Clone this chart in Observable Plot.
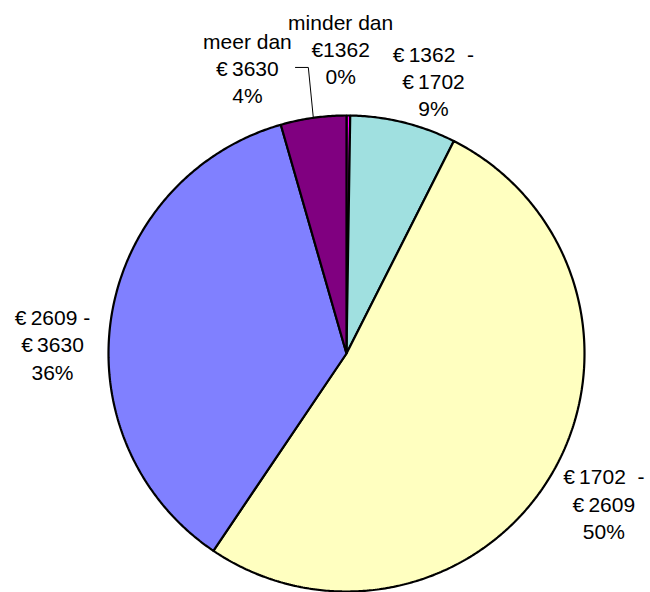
<!DOCTYPE html>
<html><head><meta charset="utf-8">
<script src="https://cdn.jsdelivr.net/npm/d3@7"></script>
<script src="https://cdn.jsdelivr.net/npm/@observablehq/plot@0.6"></script>
<style>body{margin:0;background:#fff}#chart{width:650px;height:592px}</style>
</head><body><div id="chart"></div>
<script>
// ---- data ----
const categories = ["minder dan €1362", "€ 1362 - € 1702", "€ 1702 - € 2609", "€ 2609 - € 3630", "meer dan € 3630"];
const categoryLines = [
  ["minder dan", "€1362"],
  ["€\u20091362\u00a0\u00a0-", "€\u20091702"],
  ["€\u20091702\u00a0\u00a0-", "€\u20092609"],
  ["€\u20092609 -", "€\u20093630"],
  ["meer dan", "€\u20093630"]
];
const shares = [0.25, 7.2, 52.0, 36.1, 4.45];      // slice sizes as drawn (%)
const percentLabels = ["0%", "9%", "50%", "36%", "4%"];

// ---- style / layout ----
const colors = ["#ff00ff", "#a0e0e0", "#ffffc0", "#8080ff", "#800080"];
const cx = 346, cy = 353, r = 238;
const labelRadius = [1.282, 1.204, 1.25, 1.236, 1.272];
const labelAngleNudge = [-1.55, 3.8, -0.3, -7.05, -11.1]; // degrees from slice mid-angle
const deg = Math.PI / 180;

const total = d3.sum(shares);
let acc = 0;
const slices = shares.map((v, i) => {
  const a0 = acc / total * 2 * Math.PI; acc += v;
  const a1 = acc / total * 2 * Math.PI;
  return {i, cat: categories[i], a0, a1, mid: (a0 + a1) / 2};
});

const ring = [];
slices.forEach(s => {
  ring.push({cat: s.cat, x: 0, y: 0});
  const n = Math.max(2, Math.ceil((s.a1 - s.a0) / (0.5 * deg)));
  for (let j = 0; j <= n; j++) {
    const a = s.a0 + (s.a1 - s.a0) * j / n;
    ring.push({cat: s.cat, x: Math.sin(a), y: Math.cos(a)});
  }
});

const labels = slices.map(s => {
  const a = s.mid + labelAngleNudge[s.i] * deg;
  const rr = labelRadius[s.i];
  return {
    cat: s.cat,
    x: rr * Math.sin(a), y: rr * Math.cos(a),
    text: [...categoryLines[s.i], percentLabels[s.i]].join("\n")
  };
});

// leader line for the last slice
const last = slices[4], lastLab = labels[4];
const ax = Math.sin(last.mid), ay = Math.cos(last.mid);
const leader = [
  {x: ax, y: ay},
  {x: ax - 0.021, y: lastLab.y},
  {x: ax - 0.075, y: lastLab.y}
];

const chart = Plot.plot({
  width: 650, height: 592,
  margin: 0,
  x: {domain: [-1, 1], range: [cx - r, cx + r], axis: null},
  y: {domain: [-1, 1], range: [cy + r, cy - r], axis: null},
  color: {domain: categories, range: colors},
  style: {background: "white", fontFamily: "Arial, 'Liberation Sans', sans-serif"},
  marks: [
    Plot.line(ring, {x: "x", y: "y", z: "cat", fill: "cat", curve: "linear-closed",
      stroke: "black", strokeWidth: 2.2, strokeLinejoin: "miter", strokeOpacity: 1}),
    Plot.line(leader, {x: "x", y: "y", stroke: "black", strokeWidth: 1}),
    Plot.text(labels, {x: "x", y: "y", text: "text", fontSize: 21, lineHeight: 1.3,
      textAnchor: "middle", fill: "black", fontFamily: "Arial, 'Liberation Sans', sans-serif"})
  ]
});
document.getElementById("chart").appendChild(chart);
</script>
</body></html>
